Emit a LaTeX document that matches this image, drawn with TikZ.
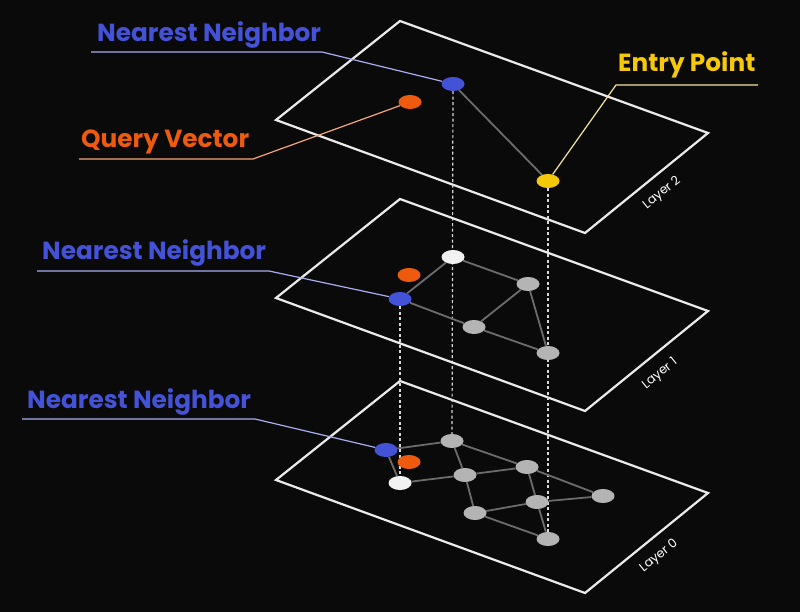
\documentclass[tikz,border=0pt]{standalone}
\usepackage{fontspec}
\setmainfont{Poppins}
\usepackage{tikz}
\usetikzlibrary{shapes.geometric, backgrounds}
\definecolor{bg}{HTML}{0A0A0A}
\definecolor{nnblue}{HTML}{4452D8}
\definecolor{qorange}{HTML}{EE5A0E}
\definecolor{epyellow}{HTML}{F6C80A}
\definecolor{nnlead}{HTML}{A9AEF0}
\definecolor{qlead}{HTML}{F5A676}
\definecolor{eplead}{HTML}{F5E4A0}
\definecolor{edgegray}{HTML}{6C6C6C}
\definecolor{nodegray}{HTML}{B4B4B4}

\begin{document}
\begin{tikzpicture}[x=1pt, y=-1pt,
      every node/.style={font=\bfseries\fontsize{24.8}{29}\selectfont, inner sep=0pt},
      pt/.style={ellipse, minimum width=23pt, minimum height=14pt, inner sep=0pt},
      nearpt/.style={pt, fill=nnblue},
      querypt/.style={pt, fill=qorange},
      entrypt/.style={pt, fill=epyellow},
      visitpt/.style={pt, fill=white!95!black},
      graypt/.style={pt, fill=nodegray},
      plane/.style={draw=white!92!black, line width=2.2pt},
      link/.style={draw=edgegray, line width=1.8pt},
      drop/.style={draw=white!85!black, line width=1.2pt, dash pattern=on 3pt off 2.5pt},
      lead/.style={line width=1.2pt},
      tag/.style={font=\fontsize{12.5}{14}\selectfont, text=white, rotate=39}]
    \useasboundingbox (0,0) rectangle (800,612);
    % layer 2
    \node[nearpt] (n2) at (453,84) {};
    \node[querypt] (q2) at (410,102) {};
    \node[entrypt] (e2) at (548,181) {};
    % layer 1
    \node[visitpt] (w1) at (453,257) {};
    \node[querypt] (q1) at (409,275) {};
    \node[nearpt] (n1) at (400,299) {};
    \node[graypt] (a1) at (528,284) {};
    \node[graypt] (b1) at (474,327) {};
    \node[graypt] (c1) at (548,353) {};
    % layer 0
    \node[graypt] (a0) at (452,441) {};
    \node[nearpt] (n0) at (386,450) {};
    \node[querypt] (q0) at (409,462) {};
    \node[visitpt] (w0) at (400,483) {};
    \node[graypt] (b0) at (465,475) {};
    \node[graypt] (c0) at (527,467) {};
    \node[graypt] (d0) at (603,496) {};
    \node[graypt] (e0) at (537,502) {};
    \node[graypt] (f0) at (475,513) {};
    \node[graypt] (g0) at (548,539) {};
    \begin{pgfonlayer}{background}
      \fill[bg] (0,0) rectangle (800,612);
      \foreach \dy in {0,178,360}
        \draw[plane, shift={(0,\dy)}] (400,21) -- (708,133) -- (585,233) -- (276,120) -- cycle;
      \draw[drop] (n2) -- (a0);
      \draw[drop] (e2) -- (g0);
      \draw[drop] (n1) -- (w0);
      \draw[link] (n2) -- (e2);
      \draw[link] (n1) -- (w1) (n1) -- (b1) (w1) -- (a1) (a1) -- (b1) (a1) -- (c1) (b1) -- (c1);
      \draw[link] (n0) -- (a0) (n0) -- (w0) (w0) -- (b0) (a0) -- (b0) (a0) -- (c0) (b0) -- (c0)
        (c0) -- (d0) (c0) -- (e0) (e0) -- (d0) (b0) -- (f0) (f0) -- (e0) (f0) -- (g0) (e0) -- (g0);
    \end{pgfonlayer}
    \node[tag] (t2) at (662,193) {Layer 2};
    \node[tag] (t1) at (660,374) {Layer 1};
    \node[tag] (t0) at (659,556) {Layer 0};
    \node[text=nnblue, anchor=base west] (nnA) at (97,42) {Nearest Neighbor};
    \node[text=qorange, anchor=base west] (qv) at (81,148) {Query Vector};
    \node[text=epyellow, anchor=base west] (ep) at (618,72) {Entry Point};
    \node[text=nnblue, anchor=base west] (nnB) at (42,259) {Nearest Neighbor};
    \node[text=nnblue, anchor=base west] (nnC) at (27,408) {Nearest Neighbor};
    \coordinate (nnAl) at (91,52);  \coordinate (nnAk) at (322,52);
    \coordinate (qvl) at (79,159);  \coordinate (qvk) at (253,159);
    \coordinate (epl) at (758,85);  \coordinate (epk) at (616,85);
    \coordinate (nnBl) at (37,271); \coordinate (nnBk) at (269,271);
    \coordinate (nnCl) at (22,419); \coordinate (nnCk) at (255,419);
    \draw[lead, nnlead] (nnAl) -- (nnAk) -- (n2);
    \draw[lead, qlead] (qvl) -- (qvk) -- (q2);
    \draw[lead, eplead] (epl) -- (epk) -- (e2);
    \draw[lead, nnlead] (nnBl) -- (nnBk) -- (n1);
    \draw[lead, nnlead] (nnCl) -- (nnCk) -- (n0);
  \end{tikzpicture}
\end{document}
